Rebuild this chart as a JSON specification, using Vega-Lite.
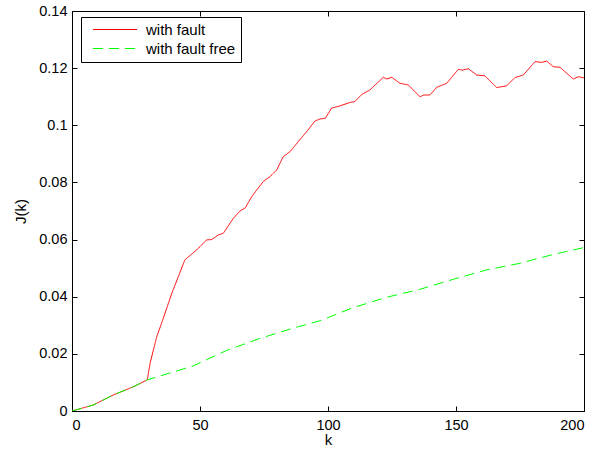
{
  "$schema": "https://vega.github.io/schema/vega-lite/v6.json",
  "width": 512,
  "height": 400,
  "autosize": "none",
  "padding": {"left": 72, "top": 11, "right": 29, "bottom": 39},
  "background": "white",
  "config": {
    "font": "Liberation Sans",
    "view": {"stroke": "black", "strokeWidth": 1},
    "axis": {"grid": false, "domainColor": "black", "tickColor": "black", "labelColor": "black", "titleColor": "black", "labelFontSize": 14.5, "titleFontSize": 15, "titleFontWeight": "normal", "tickSize": -5, "labelPadding": 10}
  },
  "datasets": {
    "curves": [
      {"k": 0, "J": 0, "s": "with fault"},
      {"k": 8.3, "J": 0.0021, "s": "with fault"},
      {"k": 16.1, "J": 0.0056, "s": "with fault"},
      {"k": 24, "J": 0.0085, "s": "with fault"},
      {"k": 29.4, "J": 0.0109, "s": "with fault"},
      {"k": 30.5, "J": 0.0167, "s": "with fault"},
      {"k": 33.1, "J": 0.026, "s": "with fault"},
      {"k": 35.5, "J": 0.032, "s": "with fault"},
      {"k": 38.9, "J": 0.041, "s": "with fault"},
      {"k": 44.1, "J": 0.0529, "s": "with fault"},
      {"k": 48.7, "J": 0.0564, "s": "with fault"},
      {"k": 52.6, "J": 0.0599, "s": "with fault"},
      {"k": 54.6, "J": 0.0600, "s": "with fault"},
      {"k": 57.1, "J": 0.0616, "s": "with fault"},
      {"k": 59.1, "J": 0.0622, "s": "with fault"},
      {"k": 63, "J": 0.0674, "s": "with fault"},
      {"k": 65.6, "J": 0.0700, "s": "with fault"},
      {"k": 67.6, "J": 0.0710, "s": "with fault"},
      {"k": 70.2, "J": 0.0750, "s": "with fault"},
      {"k": 72.1, "J": 0.0773, "s": "with fault"},
      {"k": 74.7, "J": 0.0803, "s": "with fault"},
      {"k": 77.3, "J": 0.0820, "s": "with fault"},
      {"k": 80, "J": 0.0844, "s": "with fault"},
      {"k": 82.5, "J": 0.0890, "s": "with fault"},
      {"k": 85.2, "J": 0.0908, "s": "with fault"},
      {"k": 88.4, "J": 0.0943, "s": "with fault"},
      {"k": 91.7, "J": 0.0978, "s": "with fault"},
      {"k": 94.9, "J": 0.1015, "s": "with fault"},
      {"k": 96.9, "J": 0.1022, "s": "with fault"},
      {"k": 99, "J": 0.1025, "s": "with fault"},
      {"k": 101.4, "J": 0.1060, "s": "with fault"},
      {"k": 104.7, "J": 0.1068, "s": "with fault"},
      {"k": 108.6, "J": 0.1080, "s": "with fault"},
      {"k": 110.5, "J": 0.1083, "s": "with fault"},
      {"k": 113.2, "J": 0.1108, "s": "with fault"},
      {"k": 116.4, "J": 0.1124, "s": "with fault"},
      {"k": 121.6, "J": 0.1168, "s": "with fault"},
      {"k": 123, "J": 0.1162, "s": "with fault"},
      {"k": 124.9, "J": 0.1168, "s": "with fault"},
      {"k": 128.1, "J": 0.1147, "s": "with fault"},
      {"k": 131.4, "J": 0.1141, "s": "with fault"},
      {"k": 135.9, "J": 0.1100, "s": "with fault"},
      {"k": 137.5, "J": 0.1106, "s": "with fault"},
      {"k": 139.8, "J": 0.1106, "s": "with fault"},
      {"k": 142.5, "J": 0.1133, "s": "with fault"},
      {"k": 146.4, "J": 0.1147, "s": "with fault"},
      {"k": 150.9, "J": 0.1196, "s": "with fault"},
      {"k": 152.5, "J": 0.1193, "s": "with fault"},
      {"k": 154.8, "J": 0.1198, "s": "with fault"},
      {"k": 158.1, "J": 0.1176, "s": "with fault"},
      {"k": 161.3, "J": 0.1173, "s": "with fault"},
      {"k": 165.9, "J": 0.1132, "s": "with fault"},
      {"k": 169.8, "J": 0.1138, "s": "with fault"},
      {"k": 173, "J": 0.1167, "s": "with fault"},
      {"k": 176.3, "J": 0.1176, "s": "with fault"},
      {"k": 180.9, "J": 0.1223, "s": "with fault"},
      {"k": 183.5, "J": 0.1220, "s": "with fault"},
      {"k": 185.4, "J": 0.1225, "s": "with fault"},
      {"k": 188, "J": 0.1205, "s": "with fault"},
      {"k": 190.6, "J": 0.1203, "s": "with fault"},
      {"k": 195.8, "J": 0.1162, "s": "with fault"},
      {"k": 197.8, "J": 0.1170, "s": "with fault"},
      {"k": 200, "J": 0.1166, "s": "with fault"},
      {"k": 0, "J": 0, "s": "with fault free"},
      {"k": 8.3, "J": 0.0021, "s": "with fault free"},
      {"k": 16.1, "J": 0.0056, "s": "with fault free"},
      {"k": 24, "J": 0.0085, "s": "with fault free"},
      {"k": 29.4, "J": 0.0109, "s": "with fault free"},
      {"k": 47.4, "J": 0.0158, "s": "with fault free"},
      {"k": 60.4, "J": 0.0212, "s": "with fault free"},
      {"k": 73.4, "J": 0.0254, "s": "with fault free"},
      {"k": 86.4, "J": 0.0290, "s": "with fault free"},
      {"k": 96.9, "J": 0.0316, "s": "with fault free"},
      {"k": 109.9, "J": 0.0362, "s": "with fault free"},
      {"k": 122.9, "J": 0.0398, "s": "with fault free"},
      {"k": 135.9, "J": 0.0426, "s": "with fault free"},
      {"k": 149, "J": 0.0461, "s": "with fault free"},
      {"k": 162, "J": 0.0494, "s": "with fault free"},
      {"k": 175, "J": 0.0517, "s": "with fault free"},
      {"k": 188, "J": 0.0548, "s": "with fault free"},
      {"k": 200, "J": 0.0572, "s": "with fault free"}
    ]
  },
  "data": {"name": "curves"},
  "layer": [
    {
      "mark": {"type": "line", "strokeWidth": 1, "clip": true},
      "encoding": {
        "x": {"field": "k", "type": "quantitative", "scale": {"domain": [0, 200], "nice": false}, "axis": {"orient": "bottom", "values": [0, 50, 100, 150, 200], "title": "k", "titlePadding": 1, "labelPadding": 12}},
        "y": {"field": "J", "type": "quantitative", "scale": {"domain": [0, 0.14], "nice": false, "zero": false}, "axis": {"orient": "left", "values": [0, 0.02, 0.04, 0.06, 0.08, 0.1, 0.12, 0.14], "labelExpr": "format(datum.value, '~g')", "title": "J(k)", "titlePadding": 10}},
        "color": {"field": "s", "type": "nominal", "scale": {"domain": ["with fault", "with fault free"], "range": ["#ff0000", "#00ff00"]}, "legend": {"title": null, "orient": "none", "legendX": 9, "legendY": 6, "symbolType": "M-1,0H7", "symbolSize": 121, "symbolOffset": 5, "symbolStrokeWidth": 1, "labelFontSize": 15, "labelColor": "black", "strokeColor": "black", "fillColor": "white", "padding": 5, "rowPadding": 3, "labelLimit": 300, "labelOffset": 40}},
        "strokeDash": {"field": "s", "type": "nominal", "scale": {"domain": ["with fault", "with fault free"], "range": [[1, 0], [10, 6]]}, "legend": null},
        "order": {"field": "k", "type": "quantitative"}
      }
    },
    {
      "mark": {"type": "line", "opacity": 0},
      "encoding": {
        "x": {"field": "k", "type": "quantitative", "axis": {"orient": "top", "values": [0, 50, 100, 150, 200], "labels": false, "title": null, "domain": false}},
        "y": {"field": "J", "type": "quantitative", "axis": {"orient": "right", "values": [0, 0.02, 0.04, 0.06, 0.08, 0.1, 0.12, 0.14], "labels": false, "title": null, "domain": false}},
        "detail": {"field": "s"}
      }
    }
  ],
  "resolve": {"axis": {"x": "independent", "y": "independent"}}
}
